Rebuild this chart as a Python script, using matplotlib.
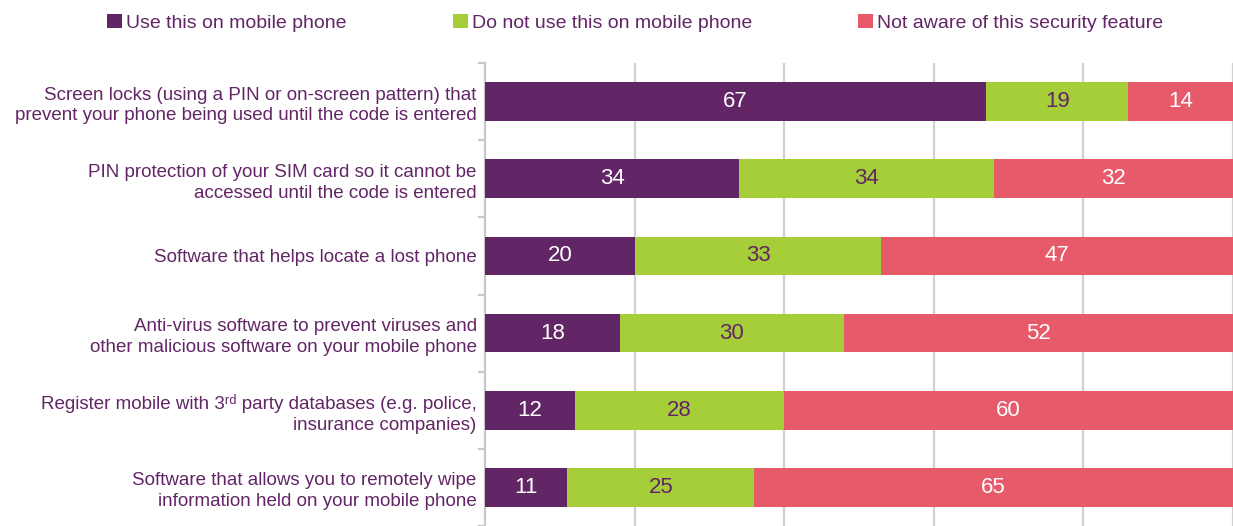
import numpy as np
import matplotlib.pyplot as plt

plt.rcParams['font.family'] = ['Liberation Sans', 'DejaVu Sans']

categories = [
    "Screen locks (using a PIN or on-screen pattern) that\nprevent your phone being used until the code is entered",
    "PIN protection of your SIM card so it cannot be\naccessed until the code is entered",
    "Software that helps locate a lost phone",
    "Anti-virus software to prevent viruses and\nother malicious software on your mobile phone",
    "Register mobile with 3ʳᵈ party databases (e.g. police,\ninsurance companies)",
    "Software that allows you to remotely wipe\ninformation held on your mobile phone",
]
use_it = [67, 34, 20, 18, 12, 11]
not_use = [19, 34, 33, 30, 28, 25]
not_aware = [14, 32, 47, 52, 60, 65]

series_names = ["Use this on mobile phone", "Do not use this on mobile phone",
                "Not aware of this security feature"]
colors = ["#622566", "#A6CE39", "#E65A6A"]
text_colors = ["white", "#622566", "white"]
purple = "#622566"

fig = plt.figure(figsize=(12.33, 5.26), dpi=100)
ax = fig.add_axes([485 / 1233, 0.0, 1 - 485 / 1233, 1 - 63 / 526])

y = np.arange(len(categories))
left = np.zeros(len(categories))
handles = []
for vals, col, tc, name in zip([use_it, not_use, not_aware], colors, text_colors, series_names):
    vals = np.array(vals)
    bars = ax.barh(y, vals, left=left, height=0.5, color=col, label=name, zorder=3)
    ax.bar_label(bars, labels=[str(v) for v in vals], label_type='center',
                 color=tc, fontsize=16)
    handles.append(bars)
    left += vals

ax.set_xlim(0, 100)
ax.set_ylim(5.45, -0.5)
ax.set_xticks([20, 40, 60, 80, 100])
ax.xaxis.grid(True, color="#D0D0D0", linewidth=1.6, zorder=0)
ax.tick_params(axis='x', length=0, labelbottom=False)

ax.set_yticks(y)
ax.set_yticklabels(categories, fontsize=13.5, color=purple, linespacing=1.3)
ax.tick_params(axis='y', length=0, pad=6)
ax.set_yticks(np.arange(-0.5, 6, 1.0), minor=True)
ax.tick_params(axis='y', which='minor', length=5, width=1.6, color="#C8C8C8", direction='out')

for s in ['top', 'right', 'bottom']:
    ax.spines[s].set_visible(False)
ax.spines['left'].set_color("#C8C8C8")
ax.spines['left'].set_linewidth(1.6)

# one legend per entry so each sits where the original has it
leg_x = [107, 453, 858]
for h, name, lx in zip(handles, series_names, leg_x):
    leg = fig.legend([h], [name], loc='center left', bbox_to_anchor=(lx / 1233, 1 - 23 / 526),
                     frameon=False, fontsize=14, handlelength=0.75, handleheight=0.75,
                     handletextpad=0.25, borderpad=0, borderaxespad=0)
    leg.get_texts()[0].set_color(purple)

fig.savefig("out.png", dpi=100)
